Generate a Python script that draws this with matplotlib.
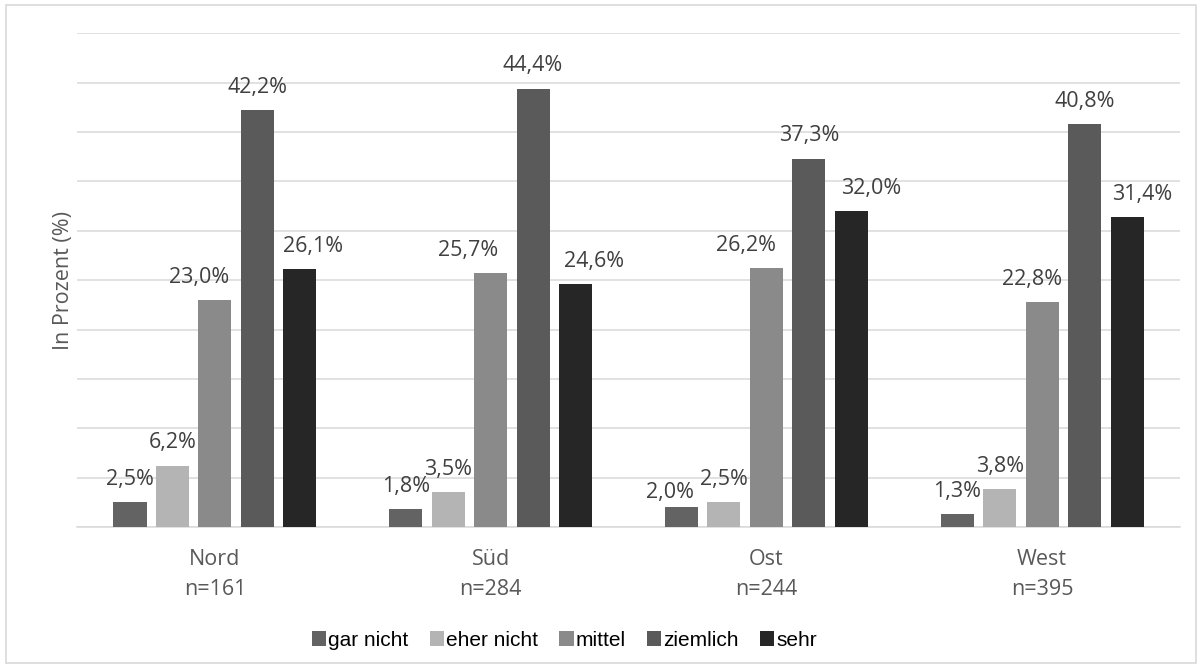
import numpy as np
import matplotlib
matplotlib.use('Agg')
import matplotlib.pyplot as plt
from matplotlib.patches import Rectangle

regions = ['Nord', 'Süd', 'Ost', 'West']
n_counts = [161, 284, 244, 395]
answers = ['gar nicht', 'eher nicht', 'mittel', 'ziemlich', 'sehr']

gar_nicht = [2.5, 1.8, 2.0, 1.3]
eher_nicht = [6.2, 3.5, 2.5, 3.8]
mittel = [23.0, 25.7, 26.2, 22.8]
ziemlich = [42.2, 44.4, 37.3, 40.8]
sehr = [26.1, 24.6, 32.0, 31.4]

series = [gar_nicht, eher_nicht, mittel, ziemlich, sehr]
colors = ['#636363', '#b4b4b4', '#8a8a8a', '#5a5a5a', '#262626']

# label nudges (points) where the labels were pushed aside in the original
nudge_x = {(2, 0): -11.5, (2, 1): -16, (2, 2): -15, (2, 3): -7,
           (4, 0): 9.5, (4, 1): 13.5, (4, 2): 14.5, (4, 3): 11,
           (0, 2): -8.5}
nudge_y = {(0, 2): 7}

label_font = 'Open Sans'
grid_col = '#d9d9d9'

fig = plt.figure(figsize=(12.02, 6.69), dpi=100)
ax = fig.add_axes([0.0641, 0.2123, 0.9176, 0.7379])

x = np.arange(len(regions))
step = 0.154
width = 0.12

handles = []
for i, (vals, col) in enumerate(zip(series, colors)):
    pos = x + (i - 2) * step
    bars = ax.bar(pos, vals, width=width, color=col, zorder=3, label=answers[i])
    handles.append(bars)
    for j, (xp, v) in enumerate(zip(pos, vals)):
        dx = nudge_x.get((i, j), 0)
        dy = nudge_y.get((i, j), 12.5)
        ax.annotate(f'{v:.1f}%'.replace('.', ','), (xp, v), xytext=(dx, dy),
                    textcoords='offset points', ha='center', va='baseline',
                    fontsize=15.5, family=label_font, color='#404040')

ax.set_xlim(-0.5, len(regions) - 0.5)
ax.set_ylim(0, 50)
ax.set_yticks(np.arange(0, 51, 5))
ax.yaxis.grid(True, color=grid_col, linewidth=1.1, zorder=0)
ax.tick_params(axis='y', length=0, labelleft=False)
ax.set_xticks(x)
ax.set_xticklabels([f'{r}\nn={n}' for r, n in zip(regions, n_counts)],
                   family=label_font, fontsize=15.5, color='#595959', linespacing=1.55)
ax.tick_params(axis='x', length=0, pad=16)
for s in ['top', 'right', 'left']:
    ax.spines[s].set_visible(False)
ax.spines['bottom'].set_color(grid_col)
ax.spines['bottom'].set_linewidth(1.1)
ax.set_ylabel('In Prozent (%)', family=label_font, fontsize=15.5, color='#595959', labelpad=2)

fig.legend(handles=handles, labels=answers, loc='center', bbox_to_anchor=(0.4695, 0.043),
           ncol=5, frameon=False, prop={'family': 'Liberation Sans', 'size': 15},
           handlelength=0.7, handleheight=0.7, handletextpad=0.1, columnspacing=1.0)

fig.patches.append(Rectangle((6 / 1202, 1 - 663 / 669), 1190 / 1202, 658 / 669,
                             transform=fig.transFigure, fill=False,
                             edgecolor=grid_col, linewidth=1.2))

fig.savefig('out.png', dpi=100)
